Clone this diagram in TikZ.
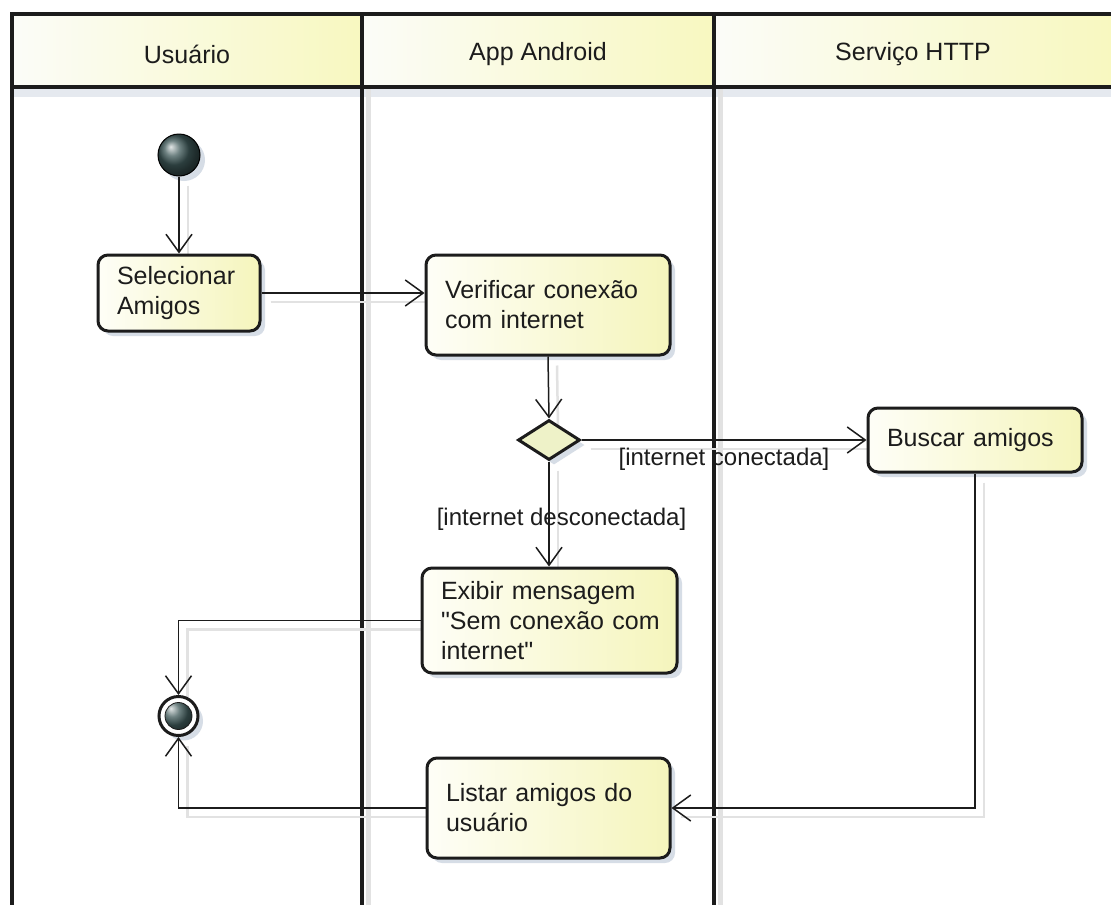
\documentclass[tikz,border=0pt]{standalone}
\usepackage{fontspec}
% plain text mapping keeps the straight double quote
\setmainfont{Liberation Sans}[Ligatures=TeXOff]
\usetikzlibrary{arrows.meta,shapes.geometric,shadows}

\definecolor{ink}{HTML}{1C1C1C}
\definecolor{laneyel}{HTML}{F8F8C0}
\definecolor{lanewhite}{HTML}{FBFCF8}
\definecolor{actyel}{HTML}{F5F5BC}
\definecolor{actwhite}{HTML}{FEFEF7}
\definecolor{boxshade}{HTML}{C6CFDC}
\definecolor{edgeshade}{HTML}{E2E2E2}
\definecolor{ballgrey}{HTML}{3E5858}
\definecolor{decfill}{HTML}{EEF2C8}

\pgfdeclarelayer{lanes}
\pgfdeclarelayer{trail}
\pgfsetlayers{lanes,trail,main}

\begin{document}
\begin{tikzpicture}[x=1pt,y=-1pt,
  every node/.style={font=\fontsize{25}{30}\selectfont, text=ink},
  softshadow/.style={drop shadow={shadow xshift=5pt, shadow yshift=-5pt, fill=boxshade, opacity=.7}},
  act/.style={rectangle, rounded corners=10pt, draw=ink, line width=3pt,
    left color=actwhite, right color=actyel, align=left,
    inner xsep=19pt, inner ysep=0pt, softshadow},
  decision/.style={diamond, draw=ink, line width=3pt, fill=decfill, inner sep=0pt,
    shape aspect=1.55, minimum width=62pt, minimum height=40pt, softshadow},
  startnode/.style={circle, draw=black, line width=1pt, inner sep=0pt,
    minimum size=42pt, ball color=ballgrey, softshadow},
  endnode/.style={circle, draw=ink, line width=3pt, inner sep=0pt, minimum size=39pt,
    fill=white, softshadow,
    path picture={
      \shade[ball color=ballgrey] (path picture bounding box.center) circle (13.5pt);
      \draw[ink, line width=.8pt] (path picture bounding box.center) circle (13.5pt);}},
  flow/.style={draw=ink, line width=1.5pt,
    -{Straight Barb[length=18pt,width=26pt,line width=1.5pt]}},
  trailline/.style={draw=edgeshade, line width=2.5pt},
  guard/.style={font=\fontsize{24}{28}\selectfont},
  lanehead/.style={left color=lanewhite, right color=laneyel},
  laneline/.style={draw=ink, line width=4.5pt},
]
\useasboundingbox (0,0) rectangle (1111,905);

% swimlanes
\begin{pgfonlayer}{lanes}
  \fill[white] (0,0) rectangle (1111,905);
  \shade[lanehead] (12,14) rectangle (362,87);
  \shade[lanehead] (362,14) rectangle (714,87);
  \shade[lanehead] (714,14) rectangle (1111,87);
  \fill[boxshade!45] (12,89) rectangle (1111,97);
  \fill[edgeshade] (366,89) rectangle (371,905);
  \fill[edgeshade] (718,89) rectangle (723,905);
  \draw[laneline] (10,14) -- (1111,14);
  \draw[laneline] (10,87) -- (1111,87);
  \draw[laneline] (12,12) -- (12,905);
  \draw[laneline] (362,12) -- (362,905);
  \draw[laneline] (714,12) -- (714,905);
\end{pgfonlayer}

\node (hUser) at (187,54) {Usuário};
\node (hApp) at (538,54) {App Android};
\node (hHttp) at (913,54) {Serviço HTTP};

% activity nodes
\node[startnode] (start) at (179,155) {};
\node[act, minimum width=162pt, minimum height=76pt, text width=124pt] (sel) at (179,293)
  {Selecionar\\Amigos};
\node[act, minimum width=244pt, minimum height=100pt, text width=206pt] (verif) at (548,305)
  {Verificar conexão\\com internet};
\node[decision] (dec) at (549,440) {};
\node[act, minimum width=214pt, minimum height=64pt, text width=176pt] (busc) at (975,440)
  {Buscar amigos};
\node[act, minimum width=255pt, minimum height=105pt, text width=217pt] (exib) at (549.5,620.5)
  {Exibir mensagem\\\mbox{"Sem conexão com}\\internet"};
\node[act, minimum width=243pt, minimum height=100pt, text width=205pt] (list) at (548.5,808)
  {Listar amigos do\\usuário};
\node[endnode] (final) at (178.5,716) {};

% connectors
\draw[flow] (start.south) -- (sel.north);
\draw[flow] (sel.east) -- (sel.east -| verif.west);
\draw[flow] (verif.south) -- (dec.north);
\draw[flow] (dec.east) -- node[guard, yshift=-19pt] (gConn) {[internet conectada]} (busc.west);
\draw[flow] (dec.south) -- node[guard, pos=.55, xshift=12.5pt] (gDesc) {[internet desconectada]}
  (dec.south |- exib.north);
\draw[flow] (exib.west) -| (final.north);
\draw[flow] (busc.south) |- (list.east);
\draw[flow] (list.west) -| (final.south);

% faint offset trail under each connector
\begin{pgfonlayer}{trail}
  \begin{scope}[transform canvas={xshift=9pt, yshift=-9pt}]
    \draw[trailline] (start.south) -- (sel.north);
    \draw[trailline] (sel.east) -- (sel.east -| verif.west);
    \draw[trailline] (verif.south) -- (dec.north);
    \draw[trailline] (dec.east) -- (busc.west);
    \draw[trailline] (dec.south) -- (dec.south |- exib.north);
    \draw[trailline] (exib.west) -| (final.north);
    \draw[trailline] (busc.south) |- (list.east);
    \draw[trailline] (list.west) -| (final.south);
  \end{scope}
\end{pgfonlayer}
\end{tikzpicture}
\end{document}
